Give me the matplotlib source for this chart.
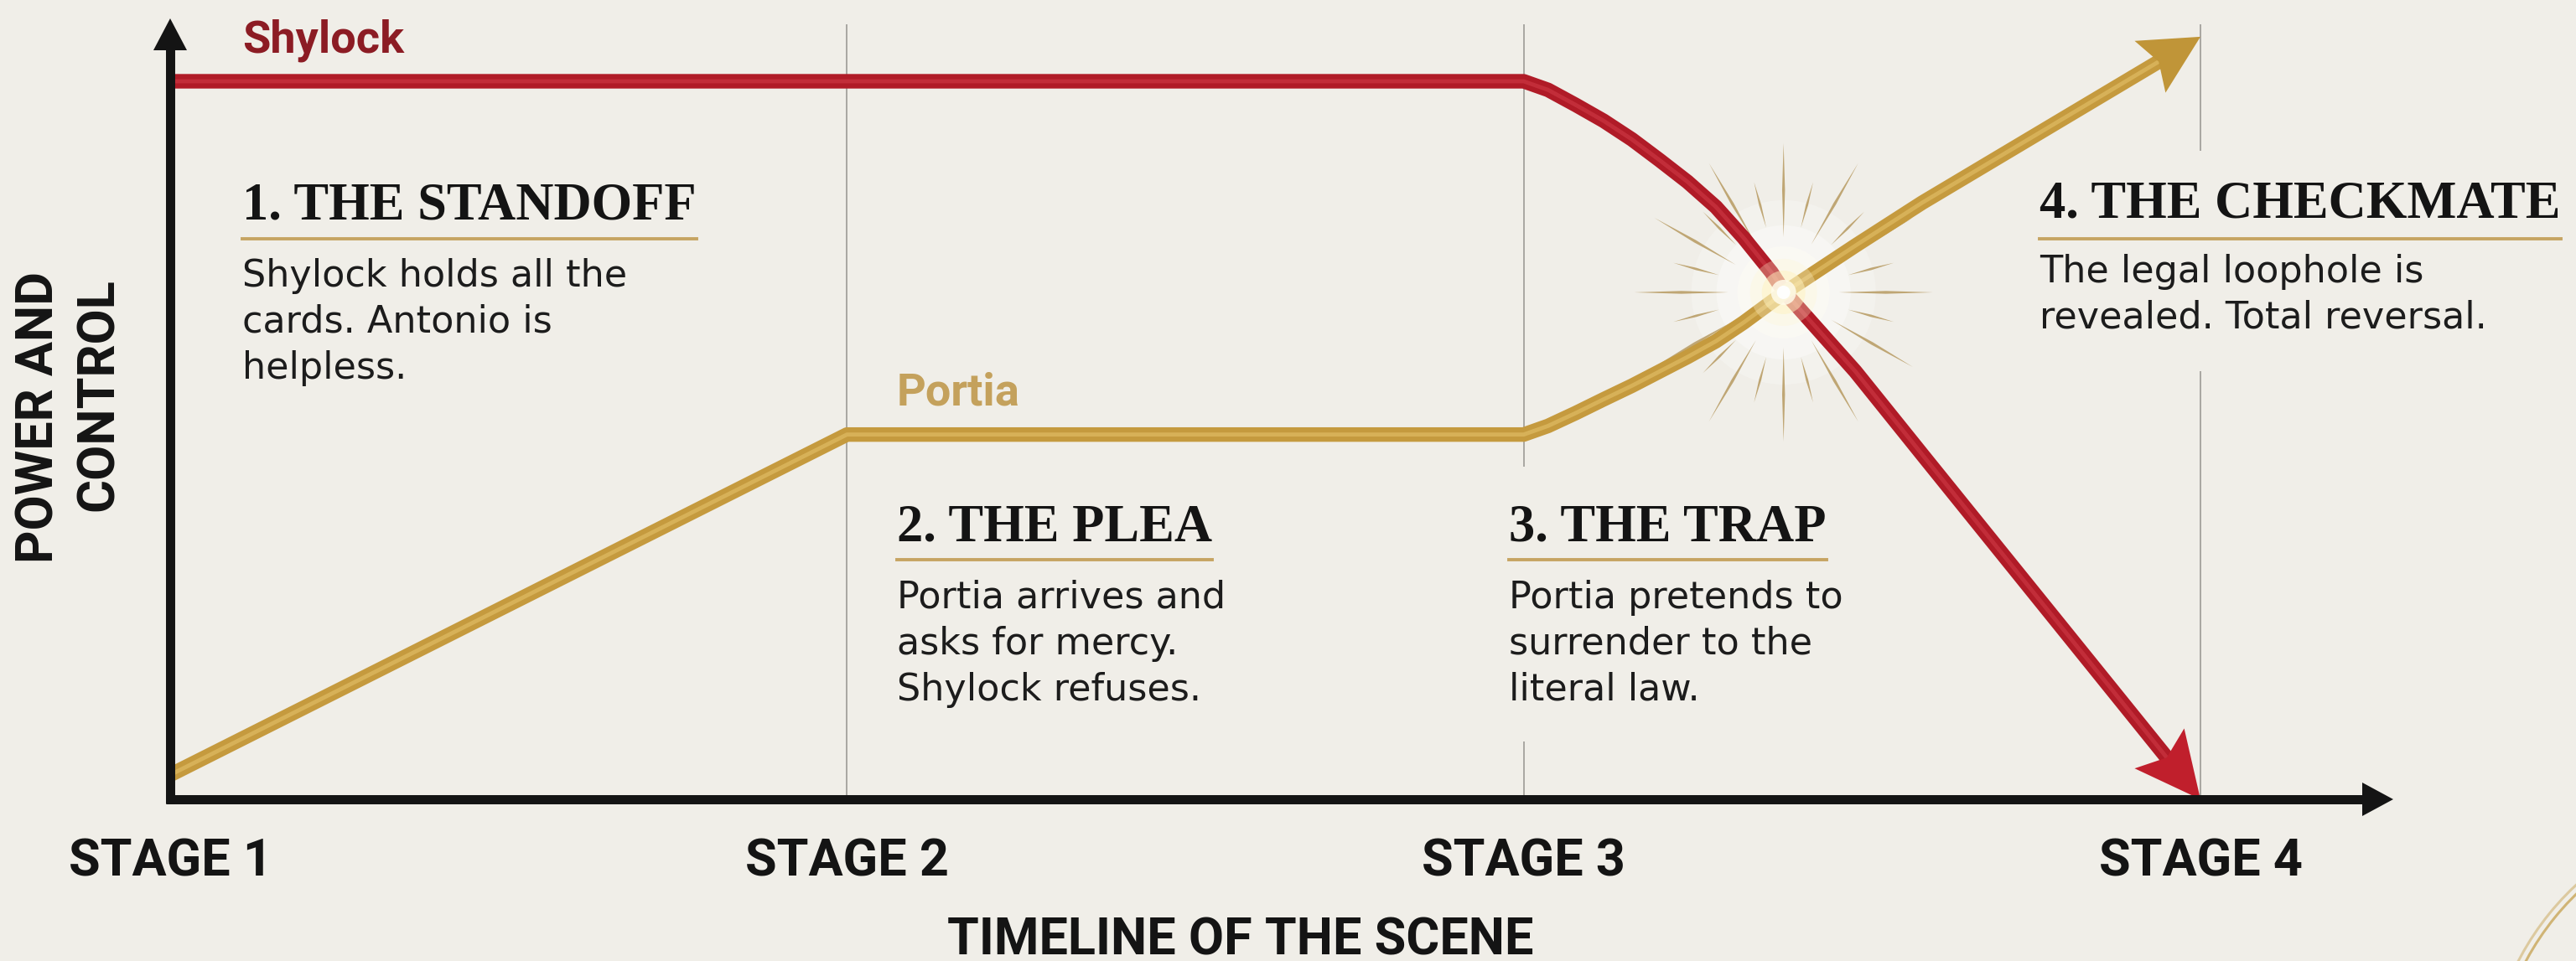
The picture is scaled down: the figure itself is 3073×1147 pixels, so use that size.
import numpy as np
import matplotlib
matplotlib.use("Agg")
import matplotlib.pyplot as plt
from matplotlib import transforms as mtransforms
from matplotlib.patches import Polygon, Circle, Arc
from matplotlib.lines import Line2D

# ---------------- data ----------------
stages = [1, 2, 3, 4]
stage_labels = ["STAGE 1", "STAGE 2", "STAGE 3", "STAGE 4"]

shylock_x = [1.0, 2.0, 3.0, 3.036, 3.077, 3.118, 3.160, 3.201, 3.242, 3.284, 3.325, 3.366,
             3.384, 3.490, 3.589, 4.0]
shylock_y = [100, 100, 100, 98.8, 96.7, 94.5, 91.9, 89.0, 86.0, 82.5, 78.2, 73.4,
             70.8, 59.6, 48.0, 0]
portia_x = [1.0, 2.0, 3.0, 3.036, 3.077, 3.118, 3.160, 3.201, 3.242, 3.284, 3.325,
            3.384, 3.490, 3.589, 4.0]
portia_y = [3.4, 50.8, 50.8, 52.0, 53.8, 55.7, 57.6, 59.6, 61.6, 63.8, 66.4,
            70.5, 77.1, 83.1, 106.2]
crossing = (3.384, 70.6)

phase_titles = ["1. THE STANDOFF", "2. THE PLEA", "3. THE TRAP", "4. THE CHECKMATE"]
phase_texts = [
    "Shylock holds all the\ncards. Antonio is\nhelpless.",
    "Portia arrives and\nasks for mercy.\nShylock refuses.",
    "Portia pretends to\nsurrender to the\nliteral law.",
    "The legal loophole is\nrevealed. Total reversal.",
]
x_title = "TIMELINE OF THE SCENE"
y_title = ["POWER AND", "CONTROL"]

# ---------------- style ----------------
W, H, DPI = 3073, 1147, 100
BG = "#F0EEE8"
RED = "#B01B27"
RED_HI = "#D84450"
GOLD = "#C59A3E"
GOLD_HI = "#E6C56E"
GOLD_TXT = "#C4A15C"
RED_TXT = "#8C1C24"
INK = "#141414"
GRID = "#A9A7A2"

fig = plt.figure(figsize=(W / DPI, H / DPI), dpi=DPI)
fig.patch.set_facecolor(BG)
ax = fig.add_axes([0, 0, 1, 1])
ax.set_facecolor(BG)
xs = (2625 - 203) / 3.0
ys = (954 - 97) / 100.0
ax.set_xlim(1 - 203 / xs, 1 + (W - 203) / xs)
ax.set_ylim(-(H - 954) / ys, 954 / ys)
ax.axis("off")

PIX = mtransforms.Affine2D().scale(1, -1).translate(0, H)   # pixel coords, origin top-left
IDT = mtransforms.IdentityTransform()
XPIX = mtransforms.blended_transform_factory(ax.transData, PIX)


def px_to_y(py):
    return ax.transData.inverted().transform(PIX.transform((0, py)))[1]


def head(tip, tail, length, width, notch, color, z):
    p1 = ax.transData.transform(tip)
    p0 = ax.transData.transform(tail)
    u = (p1 - p0) / np.hypot(*(p1 - p0))
    n = np.array([-u[1], u[0]])
    base = p1 - u * length
    verts = [p1, base + n * width / 2, base + u * notch, base - n * width / 2]
    ax.add_patch(Polygon(verts, closed=True, transform=IDT, facecolor=color,
                         edgecolor="none", zorder=z))
    return ax.transData.inverted().transform(base + u * (notch + 4))


# ---------------- paper decorations ----------------
arc_c = (3300, 1300)
for r, a in [(325, 0.8), (333, 0.5)]:
    ax.add_patch(Arc(arc_c, 2 * r, 2 * r, theta1=198, theta2=240, transform=PIX,
                     color="#C9A658", lw=2.2, alpha=a, zorder=0.5))

# ---------------- stage grid lines ----------------
top_y = px_to_y(29)
ax.vlines([stages[1]], [0], [top_y], color=GRID, lw=1.4, zorder=1)
ax.vlines([stages[2]] * 2, [0, px_to_y(557)], [px_to_y(885), top_y], color=GRID, lw=1.4, zorder=1)
ax.vlines([stages[3]] * 2, [0, px_to_y(180)], [px_to_y(443), top_y], color=GRID, lw=1.4, zorder=1)

# ---------------- starburst ----------------
star_t = mtransforms.Affine2D() + mtransforms.ScaledTranslation(crossing[0], crossing[1], ax.transData)
for r, c, a in [(110, "#FFFFFF", 0.25), (80, "#FFFFFF", 0.35), (55, "#FFFDF4", 0.45)]:
    ax.add_patch(Circle((0, 0), r, transform=star_t, facecolor=c, edgecolor="none",
                        alpha=a, zorder=1.4))
for k in range(24):
    ang = np.deg2rad(k * 15)
    if k % 2 == 0:
        r0, r1, w = 66, 178, 1.7
    else:
        r0, r1, w = 80, 136, 1.4
    u = np.array([np.cos(ang), np.sin(ang)])
    n = np.array([-u[1], u[0]])
    pm = u * (r0 + r1) / 2
    verts = [u * r0, pm + n * w, u * r1, pm - n * w]
    ax.add_patch(Polygon(verts, closed=True, transform=star_t, facecolor="#B39457",
                         edgecolor="none", alpha=0.8, zorder=1.5))

# ---------------- axes arrows ----------------
AX_LW = 7.9
ybase = head((1, px_to_y(22)), (1, 0), 38, 40, 0, INK, 6)
ax.plot([1, 1], [px_to_y(959), ybase[1]], color=INK, lw=AX_LW, solid_capstyle="butt", zorder=6)
xbase = head((1 + (2855 - 203) / xs, 0), (1, 0), 37, 40, 0, INK, 6)
ax.plot([1 - 5.5 / xs, xbase[0]], [0, 0], color=INK, lw=AX_LW, solid_capstyle="butt", zorder=6)

# ---------------- series ----------------
LW = 12.5
sb = head((shylock_x[-1], shylock_y[-1]), (shylock_x[-2], shylock_y[-2]), 78, 76, 14, "#C01F2C", 4)
sx = shylock_x[:-1] + [sb[0]]
sy = shylock_y[:-1] + [sb[1]]
ax.plot(sx, sy, color=RED, lw=LW, solid_joinstyle="round", solid_capstyle="butt", zorder=3)
ax.plot(sx, sy, color=RED_HI, lw=3.5, alpha=0.45, solid_joinstyle="round", solid_capstyle="butt", zorder=3.1)

pb = head((portia_x[-1], portia_y[-1]), (portia_x[-2], portia_y[-2]), 70, 72, 12, "#C09538", 4)
px_ = portia_x[:-1] + [pb[0]]
py_ = portia_y[:-1] + [pb[1]]
ax.plot(px_, py_, color=GOLD, lw=LW, solid_joinstyle="round", solid_capstyle="butt", zorder=3.5)
ax.plot(px_, py_, color=GOLD_HI, lw=3.5, alpha=0.55, solid_joinstyle="round", solid_capstyle="butt", zorder=3.6)

# glow on crossing
for r, c, a in [(40, "#FFF6D2", 0.3), (26, "#FFF3C0", 0.5), (15, "#FFFBEA", 0.85), (8, "#FFFFFF", 0.95)]:
    ax.add_patch(Circle((0, 0), r, transform=star_t, facecolor=c, edgecolor="none",
                        alpha=a, zorder=5))

# ---------------- labels ----------------
SANS_B = dict(family="Roboto", weight="bold")
ax.text(289, 63, "Shylock", transform=PIX, fontsize=39, color=RED_TXT, va="baseline", ha="left", **SANS_B)
ax.text(1070, 483, "Portia", transform=PIX, fontsize=39, color=GOLD_TXT, va="baseline", ha="left", **SANS_B)

for s, lab in zip(stages, stage_labels):
    ax.text(s, 1045, lab, transform=XPIX, fontsize=44, color=INK, ha="center", va="baseline", **SANS_B)
ax.text(1480, 1140, x_title, transform=PIX, fontsize=44, color=INK, ha="center", va="baseline", **SANS_B)
ax.text(47, 498, y_title[0], transform=PIX, fontsize=44, color=INK, ha="center", va="center", rotation=90, **SANS_B)
ax.text(118, 471, y_title[1], transform=PIX, fontsize=44, color=INK, ha="center", va="center", rotation=90, **SANS_B)

# phase annotations
title_pos = [(289, 262), (1070, 645), (1800, 645), (2433, 260)]
body_first = [340, 724, 724, 336]
underline_y = [285, 668, 668, 285]
LINE_STEP = 56
titles = []
for (tx, ty), t, b, bb in zip(title_pos, phase_titles, phase_texts, body_first):
    titles.append(ax.text(tx, ty, t, transform=PIX, fontsize=45, color=INK, ha="left", va="baseline",
                          family="Liberation Serif", weight="bold"))
    last_base = bb + (b.count("\n")) * LINE_STEP
    ax.text(tx, last_base, b, transform=PIX, fontsize=32, color="#1C1C1C", ha="left", va="baseline",
            family="DejaVu Sans", linespacing=1.36)

fig.canvas.draw()
for t, uy in zip(titles, underline_y):
    e = t.get_window_extent()
    yd = H - uy
    ax.add_line(Line2D([e.x0, e.x1], [yd, yd], transform=IDT, color="#C6A462", lw=2.8, zorder=2))

fig.savefig("out.png", dpi=DPI, facecolor=BG)
